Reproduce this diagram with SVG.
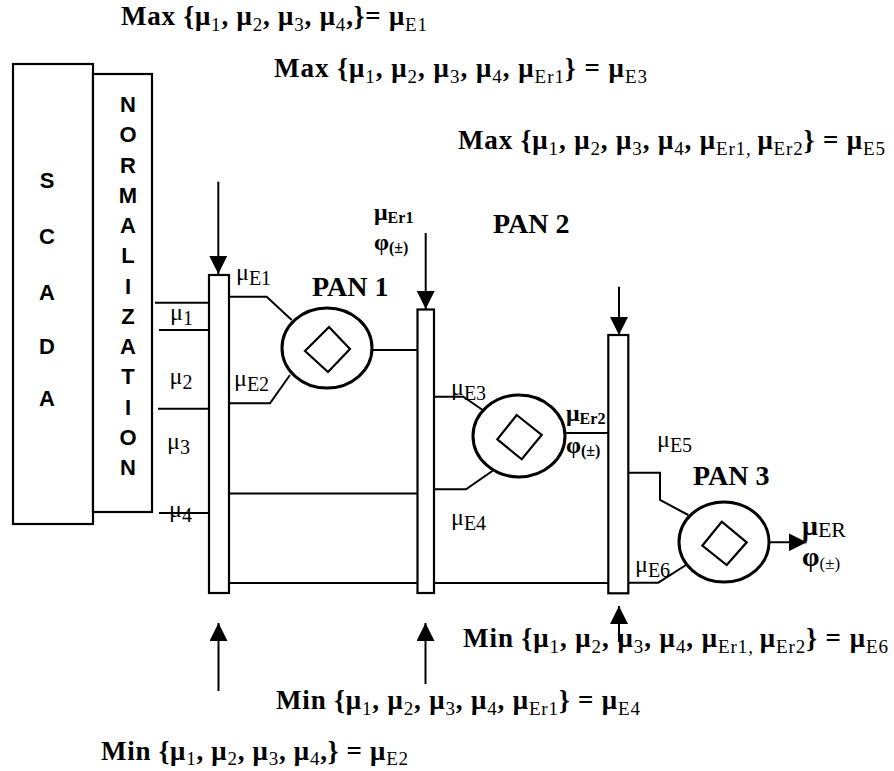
<svg xmlns="http://www.w3.org/2000/svg" width="894" height="771" viewBox="0 0 894 771">
<defs>
<marker id="ah" markerUnits="userSpaceOnUse" markerWidth="18" markerHeight="18" refX="18" refY="9" orient="auto">
<path d="M0,0 L18,9 L0,18 z" fill="#000"/>
</marker>
<style>
.box{fill:#fff;stroke:#000;stroke-width:2.2}
.ln{fill:none;stroke:#000;stroke-width:2}
.ell{fill:#fff;stroke:#000;stroke-width:3}
.dia{fill:none;stroke:#000;stroke-width:2.2}
.sans{font-family:"Liberation Sans",Arial,sans-serif;font-weight:bold;font-size:22px;text-anchor:middle}
.ser{font-family:"Liberation Serif","Times New Roman",serif;fill:#000}
.f{font-size:27px;font-weight:bold}
.sb{font-size:19px;font-weight:normal}
.pan{font-size:28px;font-weight:bold}
.lab{font-size:24px}
.ls{font-size:20px}
.bl{font-size:24px;font-weight:bold}
.bs{font-size:16px;font-weight:bold}
.big{font-size:28px;font-weight:bold}
.bigs{font-size:22px;font-weight:normal}
.phs{font-size:17px;font-weight:normal}
</style>
</defs>
<rect width="894" height="771" fill="#fff"/>

<g id="scada">
<rect class="box" x="13" y="64" width="80" height="460"/>
<text class="sans" x="47" y="188">S</text>
<text class="sans" x="47" y="244">C</text>
<text class="sans" x="47" y="300">A</text>
<text class="sans" x="47" y="354">D</text>
<text class="sans" x="47" y="406">A</text>
</g>

<g id="normalization">
<rect class="box" x="93" y="74" width="59" height="438"/>
<text class="sans" x="128" y="112">N</text>
<text class="sans" x="128" y="142.3">O</text>
<text class="sans" x="128" y="172.5">R</text>
<text class="sans" x="128" y="202.8">M</text>
<text class="sans" x="128" y="233">A</text>
<text class="sans" x="128" y="263.3">L</text>
<text class="sans" x="128" y="293.5">I</text>
<text class="sans" x="128" y="323.8">Z</text>
<text class="sans" x="128" y="354">A</text>
<text class="sans" x="128" y="384.3">T</text>
<text class="sans" x="128" y="414.5">I</text>
<text class="sans" x="128" y="444.8">O</text>
<text class="sans" x="128" y="475">N</text>
</g>

<g id="connectors">
<path class="ln" d="M155,302.7 H209"/>
<path class="ln" d="M159,330 H208"/>
<path class="ln" d="M158,408.7 H208"/>
<path class="ln" d="M159,513 H208"/>
<path class="ln" d="M229,296.7 H266.7 L291.7,320"/>
<path class="ln" d="M229,403.3 H270 L290,375"/>
<path class="ln" d="M372,350 H417.5"/>
<path class="ln" d="M229,493.5 H417.5"/>
<path class="ln" d="M229,583 H417.5"/>
<path class="ln" d="M434,583 H608.3"/>
<path class="ln" d="M434,396.7 H463.3 L482.7,410"/>
<path class="ln" d="M434,489.3 H466 L492.7,470.7"/>
<path class="ln" d="M565,433 H608.3"/>
<path class="ln" d="M628.3,472.7 H660 V500 L688.3,515"/>
<path class="ln" d="M628.3,582.7 H658.3 L686,565"/>
<path class="ln" d="M769,542.3 H806.7" marker-end="url(#ah)"/>
<path class="ln" d="M218.3,181.7 V274" marker-end="url(#ah)"/>
<path class="ln" d="M425.7,233 V309" marker-end="url(#ah)"/>
<path class="ln" d="M619,286.7 V335" marker-end="url(#ah)"/>
<path class="ln" d="M218.5,691 V623" marker-end="url(#ah)"/>
<path class="ln" d="M425.5,684 V623" marker-end="url(#ah)"/>
<path class="ln" d="M619,642 V606" marker-end="url(#ah)"/>
</g>

<g id="bar1"><rect class="box" x="209" y="275" width="20" height="318"/></g>
<g id="bar2"><rect class="box" x="417.5" y="309.5" width="16.5" height="283.5"/></g>
<g id="bar3"><rect class="box" x="608.3" y="335" width="20" height="258.3"/></g>

<g id="pan1">
<ellipse class="ell" cx="327" cy="348" rx="45" ry="40"/>
<polygon class="dia" points="329,327 350,349 328,372 305,351"/>
<text class="ser pan" x="312" y="296">PAN 1</text>
</g>
<g id="pan2">
<ellipse class="ell" cx="519" cy="436" rx="46" ry="41"/>
<polygon class="dia" points="516.7,415 541.7,435 521.7,459.3 497.3,439.3"/>
<text class="ser pan" x="493" y="233">PAN 2</text>
</g>
<g id="pan3">
<ellipse class="ell" cx="724" cy="542" rx="45" ry="40"/>
<polygon class="dia" points="721.7,521.7 746.7,542.3 726.7,565 702.3,545.7"/>
<text class="ser pan" x="693" y="485">PAN 3</text>
</g>

<g id="labels" class="ser">
<text class="lab" x="170" y="320">μ<tspan class="ls" dy="5">1</tspan></text>
<text class="lab" x="169.5" y="383.5">μ<tspan class="ls" dy="5">2</tspan></text>
<text class="lab" x="167" y="449">μ<tspan class="ls" dy="5">3</tspan></text>
<text class="lab" x="169" y="517">μ<tspan class="ls" dy="5">4</tspan></text>
<text class="lab" x="236" y="280">μ<tspan class="ls" dy="5">E1</tspan></text>
<text class="lab" x="234" y="386">μ<tspan class="ls" dy="5">E2</tspan></text>
<text class="lab" x="451" y="395">μ<tspan class="ls" dy="5">E3</tspan></text>
<text class="lab" x="451" y="525">μ<tspan class="ls" dy="5">E4</tspan></text>
<text class="lab" x="657" y="447">μ<tspan class="ls" dy="5">E5</tspan></text>
<text class="lab" x="635" y="572">μ<tspan class="ls" dy="5">E6</tspan></text>
<text class="bl" x="374" y="220">μ<tspan class="bs" dy="3">Er1</tspan></text>
<text class="bl" x="374" y="250">φ<tspan class="bs" dy="3">(±)</tspan></text>
<text class="bl" x="566" y="421">μ<tspan class="bs" dy="3">Er2</tspan></text>
<text class="bl" x="566" y="453">φ<tspan class="bs" dy="3">(±)</tspan></text>
<text class="big" x="802" y="535">μ<tspan class="bigs" dy="2">ER</tspan></text>
<text class="big" x="802" y="566">φ<tspan class="phs" dy="3">(±)</tspan></text>

<text class="f" x="121" y="25" textLength="306" lengthAdjust="spacing">Max {μ<tspan class="sb" dy="6">1</tspan><tspan dy="-6">, μ</tspan><tspan class="sb" dy="6">2</tspan><tspan dy="-6">, μ</tspan><tspan class="sb" dy="6">3</tspan><tspan dy="-6">, μ</tspan><tspan class="sb" dy="6">4</tspan><tspan dy="-6">,}= μ</tspan><tspan class="sb" dy="6">E1</tspan></text>
<text class="f" x="274" y="77" textLength="373" lengthAdjust="spacing">Max {μ<tspan class="sb" dy="6">1</tspan><tspan dy="-6">, μ</tspan><tspan class="sb" dy="6">2</tspan><tspan dy="-6">, μ</tspan><tspan class="sb" dy="6">3</tspan><tspan dy="-6">, μ</tspan><tspan class="sb" dy="6">4</tspan><tspan dy="-6">, μ</tspan><tspan class="sb" dy="6">Er1</tspan><tspan dy="-6">} = μ</tspan><tspan class="sb" dy="6">E3</tspan></text>
<text class="f" x="458" y="149" textLength="427" lengthAdjust="spacing">Max {μ<tspan class="sb" dy="6">1</tspan><tspan dy="-6">, μ</tspan><tspan class="sb" dy="6">2</tspan><tspan dy="-6">, μ</tspan><tspan class="sb" dy="6">3</tspan><tspan dy="-6">, μ</tspan><tspan class="sb" dy="6">4</tspan><tspan dy="-6">, μ</tspan><tspan class="sb" dy="6">Er1, </tspan><tspan dy="-6">μ</tspan><tspan class="sb" dy="6">Er2</tspan><tspan dy="-6">} = μ</tspan><tspan class="sb" dy="6">E5</tspan></text>
<text class="f" x="463" y="647" textLength="425" lengthAdjust="spacing">Min {μ<tspan class="sb" dy="6">1</tspan><tspan dy="-6">, μ</tspan><tspan class="sb" dy="6">2</tspan><tspan dy="-6">, μ</tspan><tspan class="sb" dy="6">3</tspan><tspan dy="-6">, μ</tspan><tspan class="sb" dy="6">4</tspan><tspan dy="-6">, μ</tspan><tspan class="sb" dy="6">Er1, </tspan><tspan dy="-6">μ</tspan><tspan class="sb" dy="6">Er2</tspan><tspan dy="-6">} = μ</tspan><tspan class="sb" dy="6">E6</tspan></text>
<text class="f" x="276" y="709" textLength="364" lengthAdjust="spacing">Min {μ<tspan class="sb" dy="6">1</tspan><tspan dy="-6">, μ</tspan><tspan class="sb" dy="6">2</tspan><tspan dy="-6">, μ</tspan><tspan class="sb" dy="6">3</tspan><tspan dy="-6">, μ</tspan><tspan class="sb" dy="6">4</tspan><tspan dy="-6">, μ</tspan><tspan class="sb" dy="6">Er1</tspan><tspan dy="-6">} = μ</tspan><tspan class="sb" dy="6">E4</tspan></text>
<text class="f" x="101" y="760" textLength="307" lengthAdjust="spacing">Min {μ<tspan class="sb" dy="5">1</tspan><tspan dy="-5">, μ</tspan><tspan class="sb" dy="5">2</tspan><tspan dy="-5">, μ</tspan><tspan class="sb" dy="5">3</tspan><tspan dy="-5">, μ</tspan><tspan class="sb" dy="5">4</tspan><tspan dy="-5">,} = μ</tspan><tspan class="sb" dy="5">E2</tspan></text>
</g>
</svg>
